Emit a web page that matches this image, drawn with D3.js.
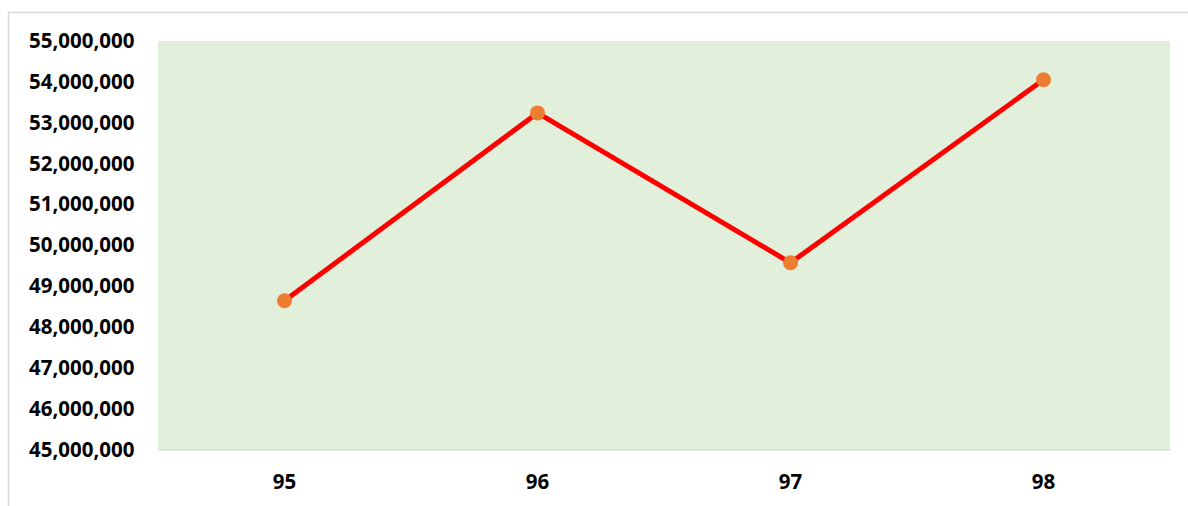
<!DOCTYPE html>
<html>
<head>
<meta charset="utf-8">
<script src="https://cdn.jsdelivr.net/npm/d3@7"></script>
<style>
  body { margin: 0; background: #fff; }
  .chart text { font-family: "Open Sans", "Liberation Sans", sans-serif; font-weight: bold; fill: #000; }
</style>
</head>
<body>
<div class="chart-container"></div>
<script>
////////////////////////////////// data
var categories = ["95", "96", "97", "98"];
var values = [48640000, 53240000, 49570000, 54050000];
var yTicks = [45000000, 46000000, 47000000, 48000000, 49000000, 50000000,
              51000000, 52000000, 53000000, 54000000, 55000000];

////////////////////////////////// layout
var outer_width = 1188, outer_height = 506;
var margin = { top: 41, right: 18, bottom: 56.5, left: 158 };
var chart_width = outer_width - margin.left - margin.right;
var chart_height = outer_height - margin.top - margin.bottom;

var svg = d3.select(".chart-container").append("svg")
    .attr("class", "chart")
    .attr("width", outer_width)
    .attr("height", outer_height);

// outer chart frame (runs off the right and bottom edges)
svg.append("rect")
    .attr("x", 8.5).attr("y", 12.5)
    .attr("width", 1200).attr("height", 520)
    .style("fill", "#fff")
    .style("stroke", "#d9d9d9")
    .style("stroke-width", 1.5);

var chart = svg.append("g")
    .attr("transform", "translate(" + margin.left + "," + margin.top + ")");

var x = d3.scaleBand().domain(categories).range([0, chart_width]);
var y = d3.scaleLinear().domain([45000000, 55000000]).range([chart_height, 0]);

// plot area
chart.append("rect")
    .attr("width", chart_width)
    .attr("height", chart_height)
    .style("fill", "#e2efda");

// y axis labels
var yAxis = d3.axisLeft(y).tickValues(yTicks).tickSize(0).tickPadding(23.5)
    .tickFormat(d3.format(","));
var gy = chart.append("g").call(yAxis);
gy.select(".domain").remove();
gy.selectAll("text").style("font-size", "20.5px");

// x axis
var xAxis = d3.axisBottom(x).tickSize(0).tickPadding(24.5);
var gx = chart.append("g")
    .attr("transform", "translate(0," + chart_height + ")")
    .call(xAxis);
gx.select(".domain").style("stroke", "#d9d9d9").style("stroke-width", 1.5);
gx.selectAll("text").style("font-size", "20.5px");

// line
var line = d3.line()
    .x(function(d, i){ return x(categories[i]) + x.bandwidth() / 2; })
    .y(function(d){ return y(d); });

chart.append("path")
    .datum(values)
    .attr("d", line)
    .style("fill", "none")
    .style("stroke", "#ff0000")
    .style("stroke-width", 5)
    .style("stroke-linejoin", "round");

chart.selectAll(".dot").data(values).enter().append("circle")
    .attr("class", "dot")
    .attr("cx", function(d, i){ return x(categories[i]) + x.bandwidth() / 2; })
    .attr("cy", function(d){ return y(d); })
    .attr("r", 7.5)
    .style("fill", "#ed7d31");
</script>
</body>
</html>
